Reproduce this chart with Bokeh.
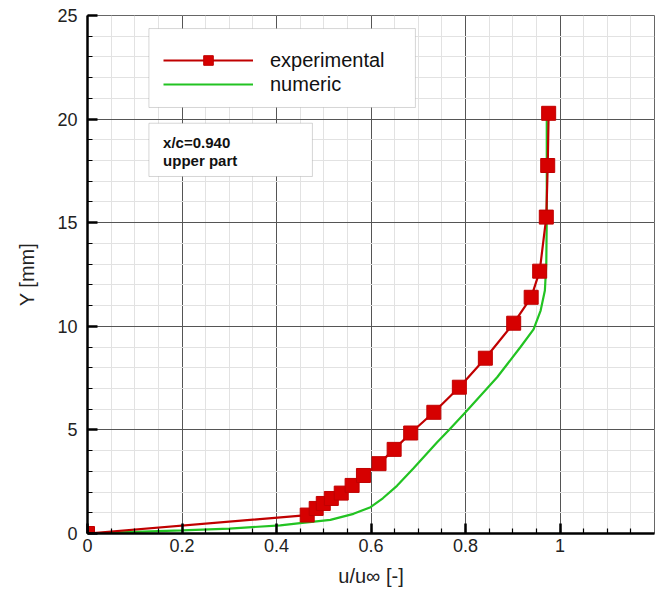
from bokeh.plotting import figure
from bokeh.models import (SingleIntervalTicker, CustomJSTickFormatter, Legend, LegendItem,
                          BoxAnnotation, Label, Range1d)
from bokeh.embed import file_html
from bokeh.resources import INLINE

# experimental data
exp_u = [0.0, 0.465, 0.484, 0.499, 0.516, 0.537, 0.560, 0.584, 0.617, 0.649, 0.684,
         0.733, 0.787, 0.842, 0.902, 0.939, 0.957, 0.971, 0.974, 0.976]
exp_y = [0.0, 0.89, 1.21, 1.45, 1.69, 1.95, 2.32, 2.80, 3.37, 4.06, 4.85,
         5.85, 7.06, 8.46, 10.15, 11.40, 12.66, 15.27, 17.76, 20.28]

# numeric data
num_u = [0.0, 0.1, 0.2, 0.3, 0.408, 0.45, 0.514, 0.563, 0.599, 0.625, 0.655,
         0.69, 0.74, 0.764, 0.80, 0.867, 0.916, 0.944, 0.959, 0.968, 0.971, 0.972, 0.972]
num_y = [0.0, 0.08, 0.15, 0.24, 0.39, 0.50, 0.66, 0.95, 1.27, 1.70, 2.30,
         3.15, 4.40, 4.97, 5.85, 7.54, 8.99, 9.85, 10.76, 11.73, 13.02, 15.27, 20.4]

FONT = "Liberation Sans"

p = figure(width=662, height=591, output_backend="svg", toolbar_location=None,
           x_range=Range1d(0, 1.2), y_range=Range1d(0, 25),
           min_border_left=87, min_border_top=15, min_border_right=8, min_border_bottom=58,
           background_fill_color="white", border_fill_color="white")

p.outline_line_color = "#666666"
p.outline_line_width = 1

p.xaxis.ticker = SingleIntervalTicker(interval=0.2, num_minor_ticks=4)
p.yaxis.ticker = SingleIntervalTicker(interval=5, num_minor_ticks=5)
p.xgrid.ticker = p.xaxis.ticker
p.ygrid.ticker = p.yaxis.ticker
p.xaxis.formatter = CustomJSTickFormatter(code="return Number(tick.toFixed(2)).toString();")
p.yaxis.formatter = CustomJSTickFormatter(code="return Number(tick.toFixed(2)).toString();")

for ax in (p.xaxis, p.yaxis):
    ax.axis_line_color = "black"
    ax.axis_line_width = 2.5
    ax.major_tick_in = 10
    ax.major_tick_out = 0
    ax.minor_tick_in = 5
    ax.minor_tick_out = 0
    ax.major_tick_line_color = "black"
    ax.major_tick_line_width = 2.5
    ax.minor_tick_line_color = "black"
    ax.minor_tick_line_width = 1.2
    ax.major_label_text_font = FONT
    ax.major_label_text_font_size = "18px"
    ax.major_label_text_color = "#222222"
    ax.axis_label_text_font = FONT
    ax.axis_label_text_font_size = "20px"
    ax.axis_label_text_font_style = "normal"
    ax.axis_label_text_color = "#222222"

p.xaxis.major_label_standoff = 5
p.yaxis.major_label_standoff = 10
p.xaxis.axis_label = "u/u\u221e [-]"
p.yaxis.axis_label = "Y [mm]"
p.xaxis.axis_label_standoff = 10
p.yaxis.axis_label_standoff = 16

for g in (p.xgrid, p.ygrid):
    g.grid_line_color = "#555555"
    g.grid_line_width = 1
    g.minor_grid_line_color = "#e2e2e2"
    g.minor_grid_line_width = 1

num_r = p.line(num_u, num_y, line_color="#22c322", line_width=2.2)
exp_line = p.line(exp_u, exp_y, line_color="#c00000", line_width=2.2)
exp_pts = p.scatter(exp_u, exp_y, marker="square", size=14,
                    fill_color="#d60000", line_color="#c00000")

# legend frame
legend_box = BoxAnnotation(left=0.130, right=0.694, top=24.37, bottom=20.56,
                           fill_color="white", fill_alpha=1, line_color="#777777", line_width=1)
p.add_layout(legend_box)

legend = Legend(items=[LegendItem(label="experimental", renderers=[exp_line, exp_pts]),
                       LegendItem(label="numeric", renderers=[num_r])],
                location=(76, 437), orientation="vertical")
legend.padding = 0
legend.margin = 0
legend.spacing = 0
legend.glyph_width = 90
legend.glyph_height = 24
legend.label_height = 24
legend.label_standoff = 17
legend.label_text_font = FONT
legend.label_text_font_size = "20px"
legend.label_text_color = "#111111"
legend.border_line_color = None
legend.background_fill_alpha = 0
p.add_layout(legend, "center")

box = BoxAnnotation(left=0.130, right=0.476, top=19.80, bottom=17.23,
                    fill_color="white", fill_alpha=1, line_color="#777777", line_width=1)
p.add_layout(box)
p.add_layout(Label(x=0.160, y=18.85, text="x/c=0.940", text_font=FONT,
                   text_font_size="15px", text_font_style="bold", text_color="#111111",
                   text_baseline="middle"))
p.add_layout(Label(x=0.160, y=17.98, text="upper part", text_font=FONT,
                   text_font_size="15px", text_font_style="bold", text_color="#111111",
                   text_baseline="middle"))

open("out.html", "w").write(file_html(p, INLINE))
